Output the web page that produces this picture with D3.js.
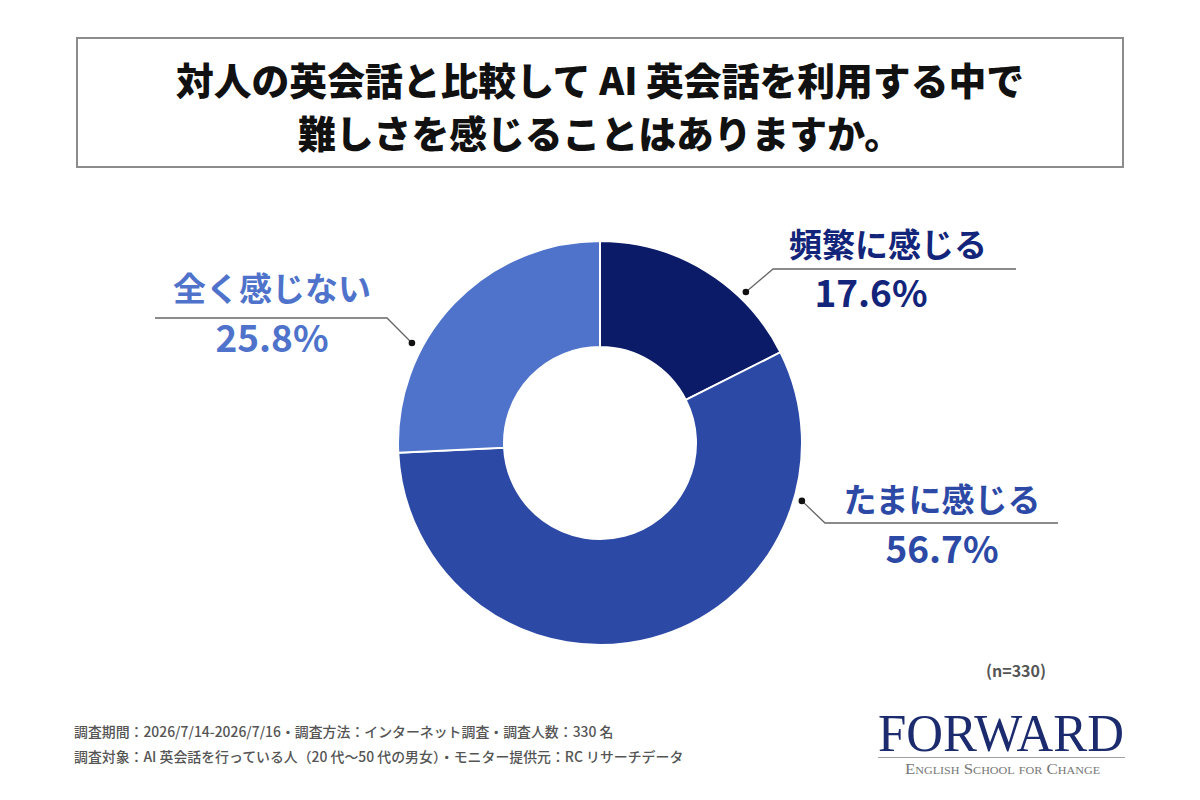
<!DOCTYPE html>
<html><head><meta charset="utf-8">
<script src="https://cdn.jsdelivr.net/npm/d3@7/dist/d3.min.js"></script>
<style>
html,body{margin:0;padding:0;background:#fff;}
svg{display:block;font-family:"Noto Sans CJK JP","Noto Sans",sans-serif;}
</style></head>
<body>
<svg id="chart" width="1200" height="800"></svg>
<script>
const titleLines = ["対人の英会話と比較して AI 英会話を利用する中で", "難しさを感じることはありますか。"];
const categories = ["頻繁に感じる", "たまに感じる", "全く感じない"];
const values = [17.6, 56.7, 25.8];
const sampleNote = "(n=330)";
const footerLines = [
  "調査期間：2026/7/14-2026/7/16・調査方法：インターネット調査・調査人数：330 名",
  "調査対象：AI 英会話を行っている人（20 代〜50 代の男女）・モニター提供元：RC リサーチデータ"
];

const sliceColors = ["#0b1b68", "#2c49a6", "#4f73cb"];
const textColors = ["#13257a", "#2c49a6", "#4f73cb"];

const svg = d3.select("#chart");
const W = 1200;

// Title box
svg.append("rect").attr("x", 77).attr("y", 38).attr("width", 1046).attr("height", 129)
  .attr("fill", "#fff").attr("stroke", "#8c8c8c").attr("stroke-width", 2);
svg.selectAll("text.title").data(titleLines).join("text").attr("class", "title")
  .attr("x", W / 2).attr("y", (d, i) => 78 + i * 53)
  .attr("text-anchor", "middle").attr("dominant-baseline", "central")
  .attr("font-size", 37.8).attr("font-weight", 900).attr("fill", "#111")
  .text(d => d);

// Donut
const cx = 600, cy = 443, rOuter = 202, rInner = 96;
const pie = d3.pie().sort(null).value(d => d)(values);
const arc = d3.arc().innerRadius(rInner).outerRadius(rOuter);
const g = svg.append("g").attr("transform", `translate(${cx},${cy})`);
g.selectAll("path").data(pie).join("path")
  .attr("d", arc).attr("fill", (d, i) => sliceColors[i])
  .attr("stroke", "#fff").attr("stroke-width", 2).attr("stroke-linejoin", "miter");

// Labels (layout)
const labelLayout = [
  {ang: 44, r: 210, elbow: [773, 269], lineEnd: 1016, lx: 888, ly: 243, px: 871, py: 307},
  {ang: 106, r: 210, elbow: [825, 523], lineEnd: 1058, lx: 942, ly: 498, px: 942, py: 563},
  {ang: 298, r: 213, elbow: [387, 318], lineEnd: 155, lx: 272, ly: 287, px: 272, py: 352}
];
const lab = svg.append("g");
categories.forEach((c, i) => {
  const L = labelLayout[i];
  const a = L.ang * Math.PI / 180;
  const dx = cx + L.r * Math.sin(a), dy = cy - L.r * Math.cos(a);
  lab.append("polyline")
    .attr("points", `${dx},${dy} ${L.elbow[0]},${L.elbow[1]} ${L.lineEnd},${L.elbow[1]}`)
    .attr("fill", "none").attr("stroke", "#666").attr("stroke-width", 1.3);
  lab.append("circle").attr("cx", dx).attr("cy", dy).attr("r", 3.3).attr("fill", "#111");
  lab.append("text").attr("x", L.lx).attr("y", L.ly)
    .attr("text-anchor", "middle").attr("dominant-baseline", "central")
    .attr("font-size", 33).attr("font-weight", 700).attr("fill", textColors[i]).text(c);
  lab.append("text").attr("x", L.px).attr("y", L.py)
    .attr("text-anchor", "middle")
    .attr("font-size", 37).attr("font-weight", 700).attr("fill", textColors[i])
    .text(d3.format(".1f")(values[i]) + "%");
});

// n note
svg.append("text").attr("x", 1016).attr("y", 670).attr("text-anchor", "middle")
  .attr("dominant-baseline", "central").attr("font-size", 16).attr("font-weight", 700)
  .attr("fill", "#555").text(sampleNote);

// Footer
svg.selectAll("text.foot").data(footerLines).join("text").attr("class", "foot")
  .attr("x", 74).attr("y", (d, i) => 731 + i * 25)
  .attr("dominant-baseline", "central").attr("font-size", 13.9).attr("font-weight", 500)
  .attr("fill", "#555").text(d => d);

// Logo
const logo = svg.append("g");
logo.append("text").attr("x", 878).attr("y", 751)
  .attr("font-family", "'Liberation Serif','DejaVu Serif',serif")
  .attr("font-size", 53).attr("fill", "#1b2b6e")
  .attr("textLength", 246).attr("lengthAdjust", "spacingAndGlyphs").text("FORWARD");
logo.append("line").attr("x1", 878).attr("x2", 1125).attr("y1", 757.5).attr("y2", 757.5)
  .attr("stroke", "#a0a0a0").attr("stroke-width", 1);
logo.append("text").attr("x", 905).attr("y", 774)
  .attr("font-family", "'Liberation Serif','DejaVu Serif',serif")
  .attr("font-size", 14).attr("fill", "#777").style("font-variant", "small-caps")
  .attr("textLength", 195).attr("lengthAdjust", "spacingAndGlyphs")
  .text("English School for Change");
</script>
</body></html>
